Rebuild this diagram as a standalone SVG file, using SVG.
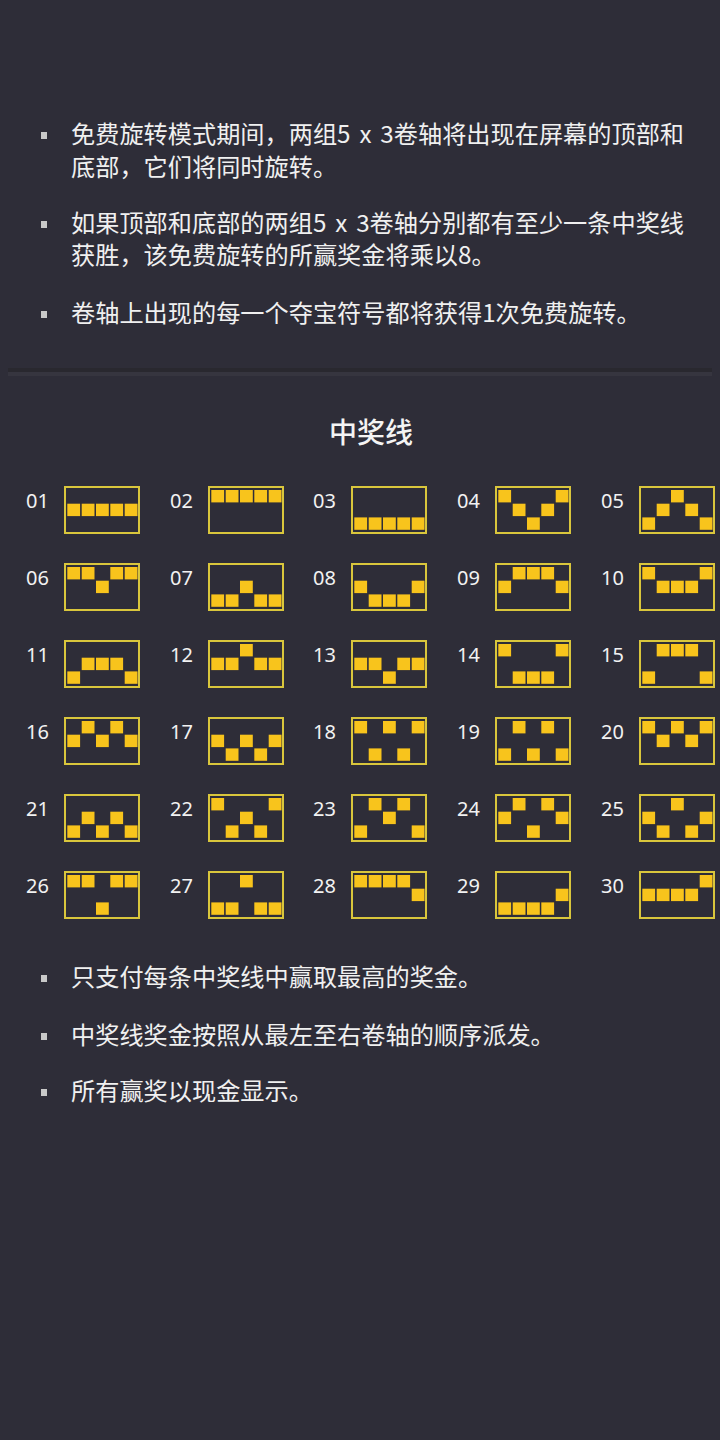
<svg xmlns="http://www.w3.org/2000/svg" xmlns:xlink="http://www.w3.org/1999/xlink" width="720" height="1440" viewBox="0 0 720 1440">
<style>
.bg{fill:#2e2d38}
.t{font-family:"Noto Sans CJK SC","Noto Sans",sans-serif;font-size:24.2px;fill:#f0f0f0;word-spacing:3.5px}
.title{font-family:"Noto Sans CJK SC","Noto Sans",sans-serif;font-size:28px;font-weight:500;fill:#f4f4f4;text-anchor:middle}
.bul{fill:#c9c9c9}
.num{font-family:"Noto Sans","Noto Sans CJK SC",sans-serif;font-size:20px;fill:#f2f2f2}
.box{fill:none;stroke:#d9c63c;stroke-width:2}
.sq{fill:#f8c41c}
</style>
<defs>
<rect id="s" width="12.8" height="12.4"/>
</defs>
<rect class="bg" x="0" y="0" width="720" height="1440"/>
<g id="rules-top">
<rect class="bul" x="41" y="132" width="6" height="7"/>
<text class="t" x="71" y="143">免费旋转模式期间，两组5 x 3卷轴将出现在屏幕的顶部和</text>
<text class="t" x="71" y="176">底部，它们将同时旋转。</text>
<rect class="bul" x="41" y="221" width="6" height="7"/>
<text class="t" x="71" y="232">如果顶部和底部的两组5 x 3卷轴分别都有至少一条中奖线</text>
<text class="t" x="71" y="264">获胜，该免费旋转的所赢奖金将乘以8。</text>
<rect class="bul" x="41" y="311" width="6" height="7"/>
<text class="t" x="71" y="322">卷轴上出现的每一个夺宝符号都将获得1次免费旋转。</text>
</g>
<g id="divider">
<rect x="8" y="368" width="704" height="4" fill="#29282f"/>
<rect x="8" y="372" width="704" height="4" fill="#36353f"/>
</g>
<text id="title" class="title" x="371" y="443">中奖线</text>
<g id="paylines">
<g id="line-01" transform="translate(64,486)"><text class="num" x="-38" y="22">01</text><rect class="box" x="1" y="1" width="74" height="46"/><g class="sq"><use xlink:href="#s" x="3.3" y="17.7"/><use xlink:href="#s" x="17.7" y="17.7"/><use xlink:href="#s" x="32" y="17.7"/><use xlink:href="#s" x="46.3" y="17.7"/><use xlink:href="#s" x="60.7" y="17.7"/></g></g>
<g id="line-02" transform="translate(208,486)"><text class="num" x="-38" y="22">02</text><rect class="box" x="1" y="1" width="74" height="46"/><g class="sq"><use xlink:href="#s" x="3.3" y="4"/><use xlink:href="#s" x="17.7" y="4"/><use xlink:href="#s" x="32" y="4"/><use xlink:href="#s" x="46.3" y="4"/><use xlink:href="#s" x="60.7" y="4"/></g></g>
<g id="line-03" transform="translate(351,486)"><text class="num" x="-38" y="22">03</text><rect class="box" x="1" y="1" width="74" height="46"/><g class="sq"><use xlink:href="#s" x="3.3" y="31.4"/><use xlink:href="#s" x="17.7" y="31.4"/><use xlink:href="#s" x="32" y="31.4"/><use xlink:href="#s" x="46.3" y="31.4"/><use xlink:href="#s" x="60.7" y="31.4"/></g></g>
<g id="line-04" transform="translate(495,486)"><text class="num" x="-38" y="22">04</text><rect class="box" x="1" y="1" width="74" height="46"/><g class="sq"><use xlink:href="#s" x="3.3" y="4"/><use xlink:href="#s" x="17.7" y="17.7"/><use xlink:href="#s" x="32" y="31.4"/><use xlink:href="#s" x="46.3" y="17.7"/><use xlink:href="#s" x="60.7" y="4"/></g></g>
<g id="line-05" transform="translate(639,486)"><text class="num" x="-38" y="22">05</text><rect class="box" x="1" y="1" width="74" height="46"/><g class="sq"><use xlink:href="#s" x="3.3" y="31.4"/><use xlink:href="#s" x="17.7" y="17.7"/><use xlink:href="#s" x="32" y="4"/><use xlink:href="#s" x="46.3" y="17.7"/><use xlink:href="#s" x="60.7" y="31.4"/></g></g>

<g id="line-06" transform="translate(64,563)"><text class="num" x="-38" y="22">06</text><rect class="box" x="1" y="1" width="74" height="46"/><g class="sq"><use xlink:href="#s" x="3.3" y="4"/><use xlink:href="#s" x="17.7" y="4"/><use xlink:href="#s" x="32" y="17.7"/><use xlink:href="#s" x="46.3" y="4"/><use xlink:href="#s" x="60.7" y="4"/></g></g>
<g id="line-07" transform="translate(208,563)"><text class="num" x="-38" y="22">07</text><rect class="box" x="1" y="1" width="74" height="46"/><g class="sq"><use xlink:href="#s" x="3.3" y="31.4"/><use xlink:href="#s" x="17.7" y="31.4"/><use xlink:href="#s" x="32" y="17.7"/><use xlink:href="#s" x="46.3" y="31.4"/><use xlink:href="#s" x="60.7" y="31.4"/></g></g>
<g id="line-08" transform="translate(351,563)"><text class="num" x="-38" y="22">08</text><rect class="box" x="1" y="1" width="74" height="46"/><g class="sq"><use xlink:href="#s" x="3.3" y="17.7"/><use xlink:href="#s" x="17.7" y="31.4"/><use xlink:href="#s" x="32" y="31.4"/><use xlink:href="#s" x="46.3" y="31.4"/><use xlink:href="#s" x="60.7" y="17.7"/></g></g>
<g id="line-09" transform="translate(495,563)"><text class="num" x="-38" y="22">09</text><rect class="box" x="1" y="1" width="74" height="46"/><g class="sq"><use xlink:href="#s" x="3.3" y="17.7"/><use xlink:href="#s" x="17.7" y="4"/><use xlink:href="#s" x="32" y="4"/><use xlink:href="#s" x="46.3" y="4"/><use xlink:href="#s" x="60.7" y="17.7"/></g></g>
<g id="line-10" transform="translate(639,563)"><text class="num" x="-38" y="22">10</text><rect class="box" x="1" y="1" width="74" height="46"/><g class="sq"><use xlink:href="#s" x="3.3" y="4"/><use xlink:href="#s" x="17.7" y="17.7"/><use xlink:href="#s" x="32" y="17.7"/><use xlink:href="#s" x="46.3" y="17.7"/><use xlink:href="#s" x="60.7" y="4"/></g></g>

<g id="line-11" transform="translate(64,640)"><text class="num" x="-38" y="22">11</text><rect class="box" x="1" y="1" width="74" height="46"/><g class="sq"><use xlink:href="#s" x="3.3" y="31.4"/><use xlink:href="#s" x="17.7" y="17.7"/><use xlink:href="#s" x="32" y="17.7"/><use xlink:href="#s" x="46.3" y="17.7"/><use xlink:href="#s" x="60.7" y="31.4"/></g></g>
<g id="line-12" transform="translate(208,640)"><text class="num" x="-38" y="22">12</text><rect class="box" x="1" y="1" width="74" height="46"/><g class="sq"><use xlink:href="#s" x="3.3" y="17.7"/><use xlink:href="#s" x="17.7" y="17.7"/><use xlink:href="#s" x="32" y="4"/><use xlink:href="#s" x="46.3" y="17.7"/><use xlink:href="#s" x="60.7" y="17.7"/></g></g>
<g id="line-13" transform="translate(351,640)"><text class="num" x="-38" y="22">13</text><rect class="box" x="1" y="1" width="74" height="46"/><g class="sq"><use xlink:href="#s" x="3.3" y="17.7"/><use xlink:href="#s" x="17.7" y="17.7"/><use xlink:href="#s" x="32" y="31.4"/><use xlink:href="#s" x="46.3" y="17.7"/><use xlink:href="#s" x="60.7" y="17.7"/></g></g>
<g id="line-14" transform="translate(495,640)"><text class="num" x="-38" y="22">14</text><rect class="box" x="1" y="1" width="74" height="46"/><g class="sq"><use xlink:href="#s" x="3.3" y="4"/><use xlink:href="#s" x="17.7" y="31.4"/><use xlink:href="#s" x="32" y="31.4"/><use xlink:href="#s" x="46.3" y="31.4"/><use xlink:href="#s" x="60.7" y="4"/></g></g>
<g id="line-15" transform="translate(639,640)"><text class="num" x="-38" y="22">15</text><rect class="box" x="1" y="1" width="74" height="46"/><g class="sq"><use xlink:href="#s" x="3.3" y="31.4"/><use xlink:href="#s" x="17.7" y="4"/><use xlink:href="#s" x="32" y="4"/><use xlink:href="#s" x="46.3" y="4"/><use xlink:href="#s" x="60.7" y="31.4"/></g></g>

<g id="line-16" transform="translate(64,717)"><text class="num" x="-38" y="22">16</text><rect class="box" x="1" y="1" width="74" height="46"/><g class="sq"><use xlink:href="#s" x="3.3" y="17.7"/><use xlink:href="#s" x="17.7" y="4"/><use xlink:href="#s" x="32" y="17.7"/><use xlink:href="#s" x="46.3" y="4"/><use xlink:href="#s" x="60.7" y="17.7"/></g></g>
<g id="line-17" transform="translate(208,717)"><text class="num" x="-38" y="22">17</text><rect class="box" x="1" y="1" width="74" height="46"/><g class="sq"><use xlink:href="#s" x="3.3" y="17.7"/><use xlink:href="#s" x="17.7" y="31.4"/><use xlink:href="#s" x="32" y="17.7"/><use xlink:href="#s" x="46.3" y="31.4"/><use xlink:href="#s" x="60.7" y="17.7"/></g></g>
<g id="line-18" transform="translate(351,717)"><text class="num" x="-38" y="22">18</text><rect class="box" x="1" y="1" width="74" height="46"/><g class="sq"><use xlink:href="#s" x="3.3" y="4"/><use xlink:href="#s" x="17.7" y="31.4"/><use xlink:href="#s" x="32" y="4"/><use xlink:href="#s" x="46.3" y="31.4"/><use xlink:href="#s" x="60.7" y="4"/></g></g>
<g id="line-19" transform="translate(495,717)"><text class="num" x="-38" y="22">19</text><rect class="box" x="1" y="1" width="74" height="46"/><g class="sq"><use xlink:href="#s" x="3.3" y="31.4"/><use xlink:href="#s" x="17.7" y="4"/><use xlink:href="#s" x="32" y="31.4"/><use xlink:href="#s" x="46.3" y="4"/><use xlink:href="#s" x="60.7" y="31.4"/></g></g>
<g id="line-20" transform="translate(639,717)"><text class="num" x="-38" y="22">20</text><rect class="box" x="1" y="1" width="74" height="46"/><g class="sq"><use xlink:href="#s" x="3.3" y="4"/><use xlink:href="#s" x="17.7" y="17.7"/><use xlink:href="#s" x="32" y="4"/><use xlink:href="#s" x="46.3" y="17.7"/><use xlink:href="#s" x="60.7" y="4"/></g></g>

<g id="line-21" transform="translate(64,794)"><text class="num" x="-38" y="22">21</text><rect class="box" x="1" y="1" width="74" height="46"/><g class="sq"><use xlink:href="#s" x="3.3" y="31.4"/><use xlink:href="#s" x="17.7" y="17.7"/><use xlink:href="#s" x="32" y="31.4"/><use xlink:href="#s" x="46.3" y="17.7"/><use xlink:href="#s" x="60.7" y="31.4"/></g></g>
<g id="line-22" transform="translate(208,794)"><text class="num" x="-38" y="22">22</text><rect class="box" x="1" y="1" width="74" height="46"/><g class="sq"><use xlink:href="#s" x="3.3" y="4"/><use xlink:href="#s" x="17.7" y="31.4"/><use xlink:href="#s" x="32" y="17.7"/><use xlink:href="#s" x="46.3" y="31.4"/><use xlink:href="#s" x="60.7" y="4"/></g></g>
<g id="line-23" transform="translate(351,794)"><text class="num" x="-38" y="22">23</text><rect class="box" x="1" y="1" width="74" height="46"/><g class="sq"><use xlink:href="#s" x="3.3" y="31.4"/><use xlink:href="#s" x="17.7" y="4"/><use xlink:href="#s" x="32" y="17.7"/><use xlink:href="#s" x="46.3" y="4"/><use xlink:href="#s" x="60.7" y="31.4"/></g></g>
<g id="line-24" transform="translate(495,794)"><text class="num" x="-38" y="22">24</text><rect class="box" x="1" y="1" width="74" height="46"/><g class="sq"><use xlink:href="#s" x="3.3" y="17.7"/><use xlink:href="#s" x="17.7" y="4"/><use xlink:href="#s" x="32" y="31.4"/><use xlink:href="#s" x="46.3" y="4"/><use xlink:href="#s" x="60.7" y="17.7"/></g></g>
<g id="line-25" transform="translate(639,794)"><text class="num" x="-38" y="22">25</text><rect class="box" x="1" y="1" width="74" height="46"/><g class="sq"><use xlink:href="#s" x="3.3" y="17.7"/><use xlink:href="#s" x="17.7" y="31.4"/><use xlink:href="#s" x="32" y="4"/><use xlink:href="#s" x="46.3" y="31.4"/><use xlink:href="#s" x="60.7" y="17.7"/></g></g>

<g id="line-26" transform="translate(64,871)"><text class="num" x="-38" y="22">26</text><rect class="box" x="1" y="1" width="74" height="46"/><g class="sq"><use xlink:href="#s" x="3.3" y="4"/><use xlink:href="#s" x="17.7" y="4"/><use xlink:href="#s" x="32" y="31.4"/><use xlink:href="#s" x="46.3" y="4"/><use xlink:href="#s" x="60.7" y="4"/></g></g>
<g id="line-27" transform="translate(208,871)"><text class="num" x="-38" y="22">27</text><rect class="box" x="1" y="1" width="74" height="46"/><g class="sq"><use xlink:href="#s" x="3.3" y="31.4"/><use xlink:href="#s" x="17.7" y="31.4"/><use xlink:href="#s" x="32" y="4"/><use xlink:href="#s" x="46.3" y="31.4"/><use xlink:href="#s" x="60.7" y="31.4"/></g></g>
<g id="line-28" transform="translate(351,871)"><text class="num" x="-38" y="22">28</text><rect class="box" x="1" y="1" width="74" height="46"/><g class="sq"><use xlink:href="#s" x="3.3" y="4"/><use xlink:href="#s" x="17.7" y="4"/><use xlink:href="#s" x="32" y="4"/><use xlink:href="#s" x="46.3" y="4"/><use xlink:href="#s" x="60.7" y="17.7"/></g></g>
<g id="line-29" transform="translate(495,871)"><text class="num" x="-38" y="22">29</text><rect class="box" x="1" y="1" width="74" height="46"/><g class="sq"><use xlink:href="#s" x="3.3" y="31.4"/><use xlink:href="#s" x="17.7" y="31.4"/><use xlink:href="#s" x="32" y="31.4"/><use xlink:href="#s" x="46.3" y="31.4"/><use xlink:href="#s" x="60.7" y="17.7"/></g></g>
<g id="line-30" transform="translate(639,871)"><text class="num" x="-38" y="22">30</text><rect class="box" x="1" y="1" width="74" height="46"/><g class="sq"><use xlink:href="#s" x="3.3" y="17.7"/><use xlink:href="#s" x="17.7" y="17.7"/><use xlink:href="#s" x="32" y="17.7"/><use xlink:href="#s" x="46.3" y="17.7"/><use xlink:href="#s" x="60.7" y="4"/></g></g>
</g>
<g id="rules-bottom">
<rect class="bul" x="41" y="975" width="6" height="7"/>
<text class="t" x="71" y="986">只支付每条中奖线中赢取最高的奖金。</text>
<rect class="bul" x="41" y="1033" width="6" height="7"/>
<text class="t" x="71" y="1044">中奖线奖金按照从最左至右卷轴的顺序派发。</text>
<rect class="bul" x="41" y="1089" width="6" height="7"/>
<text class="t" x="71" y="1100">所有赢奖以现金显示。</text>
</g>
</svg>
